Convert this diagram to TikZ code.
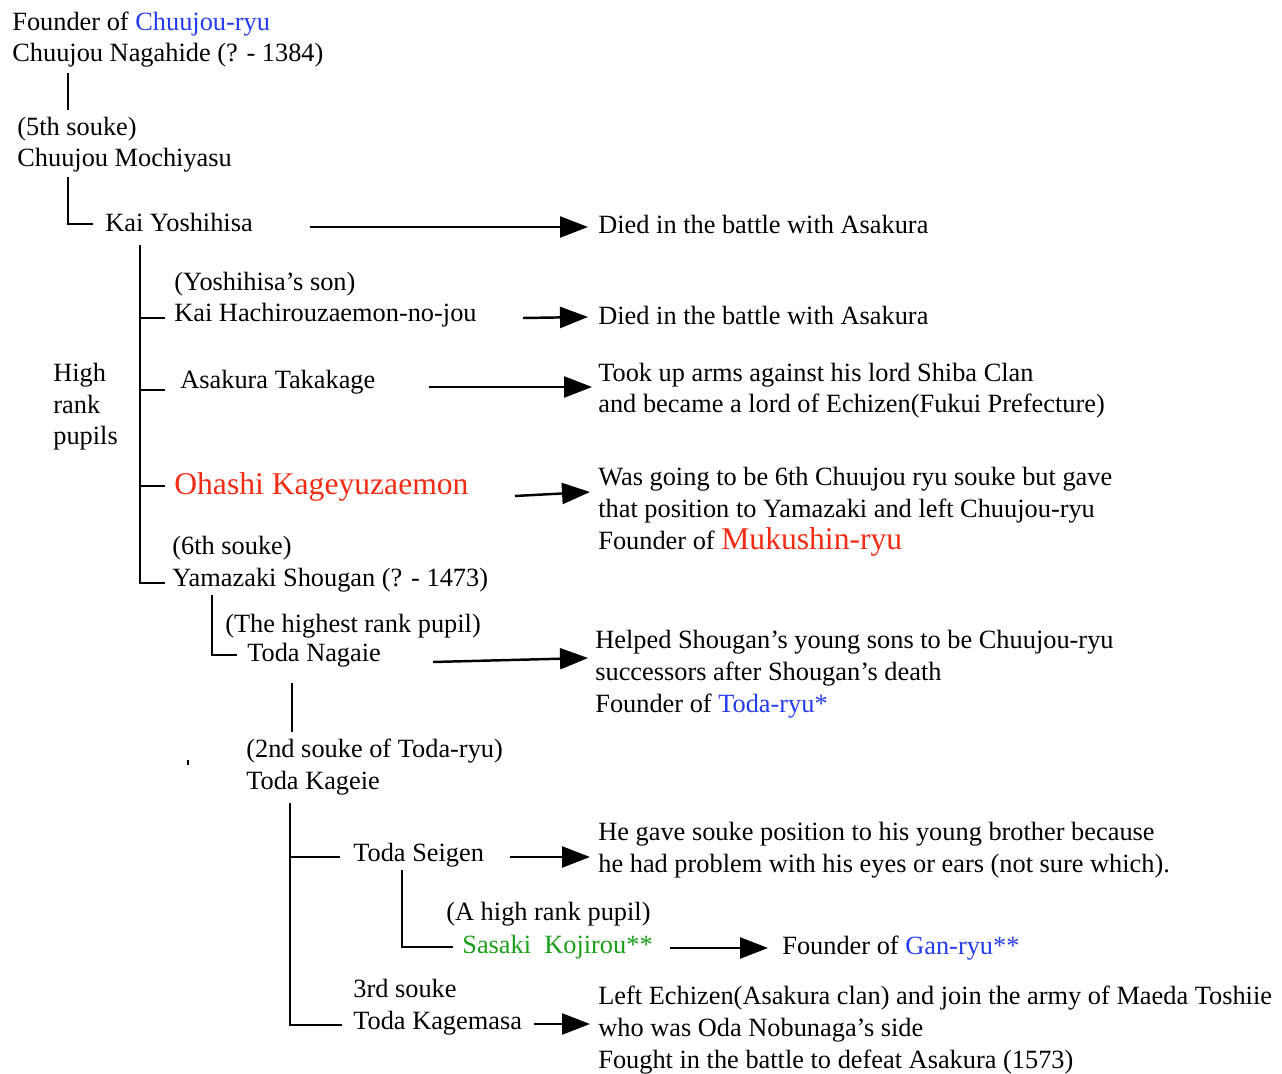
\documentclass[tikz,border=0pt]{standalone}
\usepackage{fontspec}
\setmainfont{Liberation Serif}
\usetikzlibrary{arrows.meta}
\definecolor{ryublue}{RGB}{35,60,235}
\definecolor{ryured}{RGB}{240,45,20}
\definecolor{ryugreen}{RGB}{25,160,25}
\newcommand{\bigname}[1]{{\fontsize{18}{18.1}\selectfont #1}}

\begin{document}
\begin{tikzpicture}[x=0.02cm, y=-0.02cm, font=\fontsize{15}{18.1}\selectfont,
    every node/.style={anchor=base west, inner sep=0pt, align=left},
    tree/.style={black, line width=1.4pt},
    pfeil/.style={black, line width=1.4pt, -{Triangle[length=0.56cm, width=0.42cm]}}]
            \useasboundingbox (0,0) rectangle (1282,1074);
            % names down the tree (placed at the baseline of the last line)
            \node (A) at (12,62){Founder of \textcolor{ryublue}{Chuujou-ryu}\\Chuujou Nagahide (? - 1384)};
            \node (B) at (17,167){(5th souke)\\Chuujou Mochiyasu};
            \node (C) at (105,232){Kai Yoshihisa};
            \node (D) at (174,322){(Yoshihisa’s son)\\Kai Hachirouzaemon-no-jou};
            \node (E) at (53,445){High\\rank\\pupils};
            \node (F) at (180,389){Asakura Takakage};
            \node (G) at (174,495){\bigname{\textcolor{ryured}{Ohashi Kageyuzaemon}}};
            \node (H) at (172,586){(6th souke)\\Yamazaki Shougan (? - 1473)};
            \node (I) at (225,632){(The highest rank pupil)};
            \node (J) at (247,661){Toda Nagaie};
            \node (K) at (246,789){(2nd souke of Toda-ryu)\\Toda Kageie};
            \node (L) at (353,861){Toda Seigen};
            \node (M) at (446,920){(A high rank pupil)};
            \node (N) at (462,953){\textcolor{ryugreen}{Sasaki\ \ Kojirou**}};
            \node (O) at (353,1029){3rd souke\\Toda Kagemasa};
            % remarks on the right
            \node (P) at (598,234){Died in the battle with Asakura};
            \node (Q) at (598,325){Died in the battle with Asakura};
            \node (R) at (598,413){Took up arms against his lord Shiba Clan\\and became a lord of Echizen(Fukui Prefecture)};
            \node (S) at (598,549){Was going to be 6th Chuujou ryu souke but gave\\that position to Yamazaki and left Chuujou-ryu\\Founder of \bigname{\textcolor{ryured}{Mukushin-ryu}}};
            \node (T) at (595,712){Helped Shougan’s young sons to be Chuujou-ryu\\successors after Shougan’s death\\Founder of \textcolor{ryublue}{Toda-ryu*}};
            \node (U) at (598,872){He gave souke position to his young brother because\\he had problem with his eyes or ears (not sure which).};
            \node (V) at (782,954){Founder of \textcolor{ryublue}{Gan-ryu**}};
            \node (W) at (598,1068){Left Echizen(Asakura clan) and join the army of Maeda Toshiie\\who was Oda Nobunaga’s side\\Fought in the battle to defeat Asakura (1573)};
            % tree lines
            \coordinate (a1) at (68,73);
            \coordinate (a2) at (68,110);
            \coordinate (b1) at (68,177);
            \coordinate (b2) at (93,224);
            \coordinate (c1) at (140,245);
            \coordinate (c2) at (165,583);
            \coordinate (d1) at (140,318);
            \coordinate (d2) at (165,318);
            \coordinate (f1) at (140,390);
            \coordinate (f2) at (165,390);
            \coordinate (g1) at (140,486);
            \coordinate (g2) at (165,486);
            \coordinate (h1) at (212,595);
            \coordinate (h2) at (237,655);
            \coordinate (j1) at (292,683);
            \coordinate (j2) at (292,732);
            \coordinate (k1) at (290,803);
            \coordinate (k2) at (342,1025);
            \coordinate (l0) at (290,857);
            \coordinate (l1) at (340,857);
            \coordinate (m1) at (402,870);
            \coordinate (m2) at (453,947);
            \coordinate (x1) at (188,760);
            \coordinate (x2) at (188,765);
            \draw[tree] (a1) -- (a2);
            \draw[tree] (b1) |- (b2);
            \draw[tree] (c1) |- (c2);
            \draw[tree] (d1) -- (d2);
            \draw[tree] (f1) -- (f2);
            \draw[tree] (g1) -- (g2);
            \draw[tree] (h1) |- (h2);
            \draw[tree] (j1) -- (j2);
            \draw[tree] (k1) |- (k2);
            \draw[tree] (l0) -- (l1);
            \draw[tree] (m1) |- (m2);
            \draw[tree] (x1) -- (x2);
            % arrows to the remarks
            \coordinate (c3) at (310,227);
            \coordinate (p3) at (588,227);
            \coordinate (d3) at (523,318);
            \coordinate (q3) at (588,317);
            \coordinate (f3) at (429,387);
            \coordinate (r3) at (592,387);
            \coordinate (g3) at (515,496);
            \coordinate (s3) at (590,492);
            \coordinate (j3) at (433,662);
            \coordinate (t3) at (588,658);
            \coordinate (l3) at (510,857);
            \coordinate (u3) at (590,857);
            \coordinate (n3) at (670,948);
            \coordinate (v3) at (768,948);
            \coordinate (o3) at (534,1024);
            \coordinate (w3) at (590,1024);
            \draw[pfeil] (c3) -- (p3);
            \draw[pfeil] (d3) -- (q3);
            \draw[pfeil] (f3) -- (r3);
            \draw[pfeil] (g3) -- (s3);
            \draw[pfeil] (j3) -- (t3);
            \draw[pfeil] (l3) -- (u3);
            \draw[pfeil] (n3) -- (v3);
            \draw[pfeil] (o3) -- (w3);
\end{tikzpicture}
\end{document}
